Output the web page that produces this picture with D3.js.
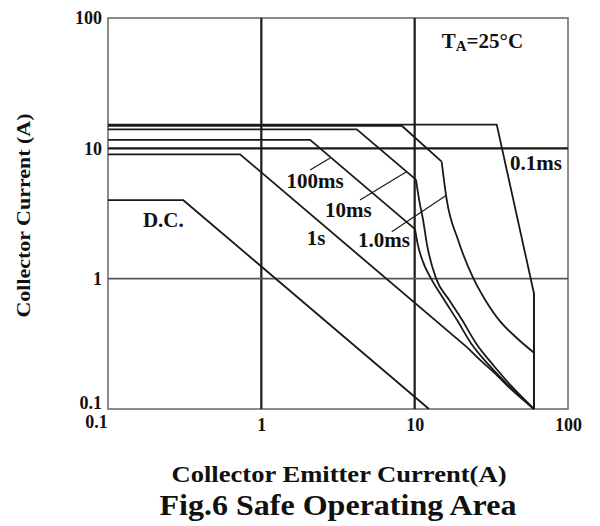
<!DOCTYPE html>
<html>
<head>
<meta charset="utf-8">
<script src="https://cdn.jsdelivr.net/npm/d3@7"></script>
<style>
  body { margin: 0; background: #fff; }
  text { font-family: "Liberation Serif", "Times New Roman", serif; font-weight: bold; fill: #111; }
</style>
</head>
<body>
<div id="chart"></div>
<script>
// axis ticks
const xTicks = [0.1, 1, 10, 100];
const yTicks = [0.1, 1, 10, 100];
const xGrid = [1, 10];
const yGrid = [1, 10];

// SOA boundaries [Vce, Ic]
const dcCurve = [[0.1, 4.0], [0.31, 4.0], [12.4, 0.1]];
const s1Curve = [[0.1, 9.0], [0.726, 9.0], [22, 0.297], [27, 0.235], [33, 0.19], [43, 0.14], [60, 0.1]];
const ms100Curve = [[0.1, 11.6], [2.08, 11.6], [10.05, 2.4], [10.5, 1.81], [11.35, 1.34], [12.8, 1.0],
  [15.6, 0.686], [18.9, 0.481], [23.3, 0.32], [31.0, 0.213], [42.5, 0.145], [60, 0.1]];
const ms10Curve = [[0.1, 14.0], [4.19, 14.0], [10.2, 5.75], [10.7, 4.01], [11.35, 2.82], [12.05, 1.81],
  [13.8, 1.0], [16.8, 0.686], [20.4, 0.481], [25.1, 0.32], [33.0, 0.213], [43.9, 0.145], [60, 0.1]];
const ms1Curve = [[0.1, 14.9], [8.24, 14.9], [15.0, 7.9], [16.2, 4.0], [19.2, 1.98], [24.2, 1.0],
  [28.8, 0.69], [36.1, 0.47], [45.2, 0.36], [60, 0.27]];
const ms01Curve = [[0.1, 15.2], [34.3, 15.2], [60, 0.77], [60, 0.1]];

// labels and pointer lines
const labels = [
  {t: "0.1ms", x: 41.9, y: 6.82},
  {t: "100ms", x: 1.46, y: 4.96},
  {t: "10ms", x: 2.60, y: 2.97},
  {t: "1s", x: 1.98, y: 1.81},
  {t: "1.0ms", x: 4.27, y: 1.75},
  {t: "D.C.", x: 0.169, y: 2.49}
];
const pointers = [
  [[2.08, 6.82], [2.81, 8.42]],
  [[4.40, 4.01], [8.79, 6.58]],
  [[7.09, 2.29], [16.2, 4.38]]
];

const W = 600, H = 526;
const m = {left: 108, top: 18, right: 32, bottom: 117};
const w = W - m.left - m.right;
const h = H - m.top - m.bottom;

const svg = d3.select("#chart").append("svg")
  .attr("width", W)
  .attr("height", H);

const x = d3.scaleLog().domain([0.1, 100]).range([0, w]);
const y = d3.scaleLog().domain([0.1, 100]).range([h, 0]);

const g = svg.append("g").attr("transform", `translate(${m.left},${m.top})`);

// frame
g.append("rect")
  .attr("width", w).attr("height", h)
  .attr("fill", "none")
  .attr("stroke", "#666")
  .attr("stroke-width", 1.5);

// grid
g.selectAll(".vg").data(xGrid).enter().append("line")
  .attr("x1", d => x(d)).attr("x2", d => x(d))
  .attr("y1", 0).attr("y2", h)
  .attr("stroke", "#1a1a1a").attr("stroke-width", 2.2);
g.selectAll(".hg").data(yGrid).enter().append("line")
  .attr("y1", d => y(d)).attr("y2", d => y(d))
  .attr("x1", 0).attr("x2", w)
  .attr("stroke", d => d == 10 ? "#1a1a1a" : "#555")
  .attr("stroke-width", d => d == 10 ? 2.2 : 1.6);

// axes (labels only)
const xAxis = g.append("g").attr("transform", `translate(0,${h})`)
  .call(d3.axisBottom(x).tickValues(xTicks).tickSize(0).tickPadding(9).tickFormat(d3.format("")));
const yAxis = g.append("g")
  .call(d3.axisLeft(y).tickValues(yTicks).tickSize(0).tickPadding(6).tickFormat(d3.format("")));
[xAxis, yAxis].forEach(a => {
  a.select(".domain").remove();
  a.selectAll("text").attr("font-size", 18).attr("font-family", "Liberation Serif")
    .attr("font-weight", "bold").attr("fill", "#111");
});
xAxis.selectAll("text").filter(d => d == 0.1).attr("dx", -12).attr("y", 6);
yAxis.selectAll("text").filter(d => d == 0.1).attr("dy", "-0.05em");

// curves
const line = d3.line().x(d => x(d[0])).y(d => y(d[1]));
const curved = d3.line().x(d => x(d[0])).y(d => y(d[1])).curve(d3.curveMonotoneX);
[dcCurve, ms01Curve].forEach(c => {
  g.append("path").attr("d", line(c)).attr("fill", "none")
    .attr("stroke", "#1a1a1a").attr("stroke-width", 1.8);
});
// straight part then smooth bend
function drawCurve(c, k) {
  g.append("path").attr("d", line(c.slice(0, k + 1))).attr("fill", "none")
    .attr("stroke", "#1a1a1a").attr("stroke-width", 1.8);
  g.append("path").attr("d", curved(c.slice(k))).attr("fill", "none")
    .attr("stroke", "#1a1a1a").attr("stroke-width", 1.8);
}
drawCurve(s1Curve, 2);
drawCurve(ms100Curve, 2);
drawCurve(ms10Curve, 2);
drawCurve(ms1Curve, 2);

// vertical Vce limit
g.append("line")
  .attr("x1", x(60)).attr("x2", x(60))
  .attr("y1", y(0.77)).attr("y2", y(0.1))
  .attr("stroke", "#1a1a1a").attr("stroke-width", 1.8);

pointers.forEach(p => {
  g.append("line")
    .attr("x1", x(p[0][0])).attr("y1", y(p[0][1]))
    .attr("x2", x(p[1][0])).attr("y2", y(p[1][1]))
    .attr("stroke", "#1a1a1a").attr("stroke-width", 1.2);
});

g.selectAll(".lbl").data(labels).enter().append("text")
  .attr("x", d => x(d.x)).attr("y", d => y(d.y))
  .attr("font-size", 21)
  .text(d => d.t);

// T_A label
const ta = g.append("text").attr("x", x(15.0)).attr("y", y(58.8)).attr("font-size", 21);
ta.append("tspan").text("T");
ta.append("tspan").attr("font-size", 15).attr("dy", 3).text("A");
ta.append("tspan").attr("dy", -3).text("=25°C");

// axis titles
svg.append("text")
  .attr("transform", `translate(30,${m.top + h / 2 + 2}) rotate(-90)`)
  .attr("text-anchor", "middle")
  .attr("font-size", 18)
  .attr("textLength", 204)
  .attr("lengthAdjust", "spacingAndGlyphs")
  .text("Collector Current (A)");
svg.append("text")
  .attr("x", 339).attr("y", 482)
  .attr("text-anchor", "middle")
  .attr("font-size", 24)
  .attr("textLength", 335)
  .attr("lengthAdjust", "spacingAndGlyphs")
  .text("Collector Emitter Current(A)");
svg.append("text")
  .attr("x", 338).attr("y", 515)
  .attr("text-anchor", "middle")
  .attr("font-size", 30)
  .attr("textLength", 357)
  .attr("lengthAdjust", "spacingAndGlyphs")
  .text("Fig.6 Safe Operating Area");
</script>
</body>
</html>
